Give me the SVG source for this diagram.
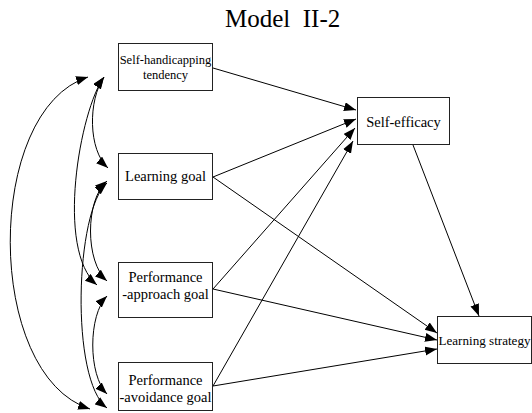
<svg xmlns="http://www.w3.org/2000/svg" width="532" height="413" viewBox="0 0 532 413">
<defs>
<marker id="ah" markerUnits="userSpaceOnUse" markerWidth="13" markerHeight="10" refX="12" refY="4.5" orient="auto-start-reverse">
<path d="M0,0 L12,4.5 L0,9 z" fill="#000"/>
</marker>
<style>
.box{fill:#fff;stroke:#222;stroke-width:1}
.t{font-family:'Liberation Serif','Times New Roman',serif;fill:#000;text-anchor:middle}
.c{fill:none;stroke:#000;stroke-width:1;marker-start:url(#ah);marker-end:url(#ah)}
.a{fill:none;stroke:#000;stroke-width:1;marker-end:url(#ah)}
</style>
</defs>
<rect width="532" height="413" fill="#fff"/>
<text x="225" y="27" font-family="Liberation Serif, serif" font-size="25" xml:space="preserve">Model  II-2</text>
<g id="connectors">
<path class="c" d="M104,77 C88,100 88,150 108,168"/>
<path class="c" d="M104,77 C80,110 55,250 97,285"/>
<path class="c" d="M88,77 C-16,110 -16,375 90,409"/>
<path class="c" d="M107,181 C85,200 85,262 107,281"/>
<path class="c" d="M107,183 C75,210 70,380 107,408"/>
<path class="c" d="M107,296 C88,315 88,375 107,394"/>
<path class="a" d="M213,68 L356,110"/>
<path class="a" d="M213,177 L356,119"/>
<path class="a" d="M213,289 L355,128"/>
<path class="a" d="M213,386 L353,141"/>
<path class="a" d="M213,177 L437,333"/>
<path class="a" d="M213,289 L437,340"/>
<path class="a" d="M213,386 L437,349"/>
<path class="a" d="M413,145 L479,316"/>
</g>
<g id="self-handicapping">
<rect class="box" x="118.5" y="43.5" width="94" height="47"/>
<text class="t" font-family="Liberation Serif, serif" x="165.5" y="64" font-size="12.5">Self-handicapping</text>
<text class="t" font-family="Liberation Serif, serif" x="165.5" y="79" font-size="12.5">tendency</text>
</g>
<g id="learning-goal">
<rect class="box" x="118.5" y="153.5" width="94" height="46"/>
<text class="t" font-family="Liberation Serif, serif" x="165.5" y="181" font-size="14.5">Learning goal</text>
</g>
<g id="performance-approach">
<rect class="box" x="118.5" y="262.5" width="94" height="55"/>
<text class="t" font-family="Liberation Serif, serif" x="165.5" y="282" font-size="14.5">Performance</text>
<text class="t" font-family="Liberation Serif, serif" x="165.5" y="299" font-size="14.5">-approach goal</text>
</g>
<g id="performance-avoidance">
<rect class="box" x="118.5" y="362.5" width="94" height="48"/>
<text class="t" font-family="Liberation Serif, serif" x="165.5" y="385" font-size="14.5">Performance</text>
<text class="t" font-family="Liberation Serif, serif" x="165.5" y="402" font-size="14.5">-avoidance goal</text>
</g>
<g id="self-efficacy">
<rect class="box" x="357.5" y="97.5" width="92" height="47"/>
<text class="t" font-family="Liberation Serif, serif" x="403.5" y="127" font-size="14.5">Self-efficacy</text>
</g>
<g id="learning-strategy">
<rect class="box" x="437.5" y="316.5" width="94" height="47"/>
<text class="t" font-family="Liberation Serif, serif" x="484.5" y="345" font-size="13.5" textLength="92" lengthAdjust="spacingAndGlyphs">Learning strategy</text>
</g>
</svg>
